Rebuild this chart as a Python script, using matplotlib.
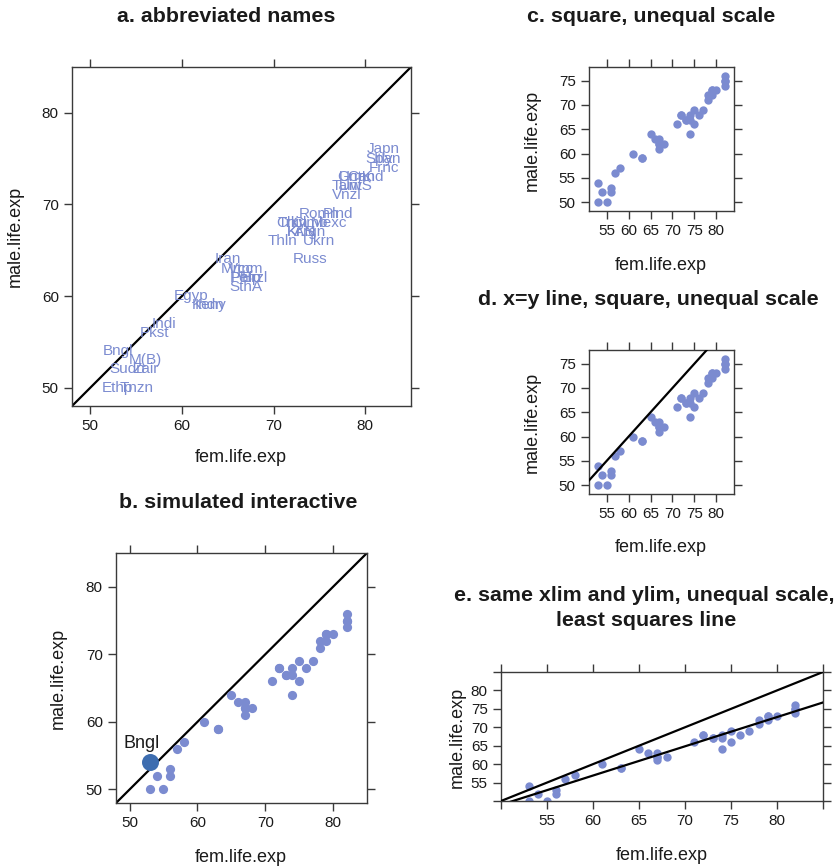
import numpy as np
import matplotlib
matplotlib.use("Agg")
import matplotlib.pyplot as plt

plt.rcParams['font.family'] = ['Liberation Sans', 'DejaVu Sans']

# Life expectancy by country (female, male)
abbr = ["Argn", "Bngl", "Brzl", "Cand", "Chin", "Clmb", "Egyp", "Ethp", "Frnc", "Grmn",
        "Indi", "Indn", "Iran", "Itly", "Japn", "Keny", "Kr.N", "Kr.S", "Mexc", "Mrcc",
        "M(B)", "Pkst", "Peru", "Phlp", "Plnd", "Romn", "Russ", "SthA", "Span", "Sudn",
        "Taiw", "Tnzn", "Thln", "Trky", "Ukrn", "UntK", "UntS", "Vnzl", "Vtnm", "Zair"]
fem_life_exp = [74, 53, 68, 80, 72, 74, 61, 53, 82, 79,
                58, 63, 65, 82, 82, 63, 73, 73, 76, 66,
                56, 57, 67, 67, 77, 75, 74, 67, 82, 54,
                78, 55, 71, 72, 75, 79, 79, 78, 67, 56]
male_life_exp = [67, 54, 62, 73, 68, 68, 60, 50, 74, 73,
                 57, 59, 64, 75, 76, 59, 67, 67, 68, 63,
                 53, 56, 62, 62, 69, 69, 64, 61, 75, 52,
                 72, 50, 66, 68, 66, 73, 72, 71, 63, 52]
highlight = "Bngl"

fem = np.array(fem_life_exp, dtype=float)
male = np.array(male_life_exp, dtype=float)

W, H = 839, 868
fig = plt.figure(figsize=(W / 100, H / 100), dpi=100)

PT_COL = "#7b8bd0"
HI_COL = "#3d6db0"
FRAME = "#3a3a3a"
TXT = "#1a1a1a"
LW = 1.6


def px_axes(left, top, right, bottom):
    return fig.add_axes([left / W, 1 - bottom / H, (right - left) / W, (bottom - top) / H])


def style(ax, xlim, ylim, xticks, yticks, xlabels=None, ylabels=None):
    ax.set_xlim(*xlim)
    ax.set_ylim(*ylim)
    ax.set_xticks(xticks)
    ax.set_yticks(yticks)
    ax.set_xticklabels(xlabels if xlabels is not None else [str(t) for t in xticks])
    ax.set_yticklabels(ylabels if ylabels is not None else [str(t) for t in yticks])
    ax.tick_params(direction='out', length=6, width=1, color=FRAME, labelcolor=TXT,
                   labelsize=11, pad=3.5, top=True, right=True,
                   labeltop=False, labelright=False)
    for sp in ax.spines.values():
        sp.set_color(FRAME)
        sp.set_linewidth(1)


def fig_text(x, y, s, **kw):
    fig.text(x / W, 1 - y / H, s, **kw)


def titles(x, y, s):
    fig_text(x, y, s, ha='center', va='baseline', fontsize=15.4, fontweight='bold', color=TXT)


def labels(xl, yl):
    fig_text(xl[0], xl[1], "fem.life.exp", ha='center', va='center', fontsize=13, color=TXT)
    fig_text(yl[0], yl[1], "male.life.exp", ha='center', va='center', fontsize=13,
             rotation=90, color=TXT)


lim_sq = (48, 85)
tk10 = [50, 60, 70, 80]


# padded ranges (7% each side) for panels c and d
def padded(v):
    r = v.max() - v.min()
    return (v.min() - 0.07 * r, v.max() + 0.07 * r)


xl_cd = padded(fem)
yl_cd = padded(male)
tk5x = [55, 60, 65, 70, 75, 80]
tk5y = [50, 55, 60, 65, 70, 75]

# a. abbreviated names
ax = px_axes(72, 67, 411, 406)
style(ax, lim_sq, lim_sq, tk10, tk10)
ax.plot(lim_sq, lim_sq, color='black', lw=LW)
for name, fx, my in zip(abbr, fem, male):
    ax.text(fx, my, name, ha='center', va='center', fontsize=11, color=PT_COL, clip_on=True)
titles(226, 22, "a. abbreviated names")
labels((241, 457), (15, 236))

# b. simulated interactive
ax = px_axes(116, 553, 367, 803)
style(ax, lim_sq, lim_sq, tk10, tk10)
ax.plot(lim_sq, lim_sq, color='black', lw=LW, zorder=1)
ax.scatter(fem, male, s=44, color=PT_COL, linewidths=0, zorder=2)
hi = abbr.index(highlight)
ax.scatter([fem[hi]], [male[hi]], s=150, color=HI_COL, linewidths=0, zorder=3)
ax.annotate(highlight, (fem[hi], male[hi]), xytext=(-6, 14), textcoords='offset points',
            ha='center', va='center', fontsize=13, color=TXT)
titles(238, 508, "b. simulated interactive")
labels((241, 857), (58, 678))

# c. square, unequal scale
ax = px_axes(589, 67, 734, 211)
style(ax, xl_cd, yl_cd, tk5x, tk5y)
ax.scatter(fem, male, s=36, color=PT_COL, linewidths=0)
titles(651, 22, "c. square, unequal scale")
labels((661, 265), (532, 140))

# d. x=y line, square, unequal scale
ax = px_axes(589, 350, 734, 494)
style(ax, xl_cd, yl_cd, tk5x, tk5y)
ax.scatter(fem, male, s=36, color=PT_COL, linewidths=0, zorder=2)
ax.plot([40, 90], [40, 90], color='black', lw=LW, zorder=3)
titles(648, 305, "d. x=y line, square, unequal scale")
labels((661, 548), (532, 422))

# e. same xlim and ylim, unequal scale, least squares line
lim_e = (50, 85)
tk_e = [50, 55, 60, 65, 70, 75, 80, 85]
tl_e = [""] + [str(t) for t in tk_e[1:-1]] + [""]
ax = px_axes(501, 672, 823, 801)
style(ax, lim_e, lim_e, tk_e, tk_e, tl_e, tl_e)
ax.scatter(fem, male, s=36, color=PT_COL, linewidths=0, zorder=2)
ax.plot(lim_e, lim_e, color='black', lw=LW, zorder=3)
slope, icpt = np.polyfit(fem, male, 1)
xs = np.array([40, 90])
ax.plot(xs, icpt + slope * xs, color='black', lw=LW, zorder=3)
titles(644, 601, "e. same xlim and ylim, unequal scale,")
titles(646, 626, "least squares line")
labels((662, 855), (457, 737))

fig.savefig("out.png", dpi=100)
